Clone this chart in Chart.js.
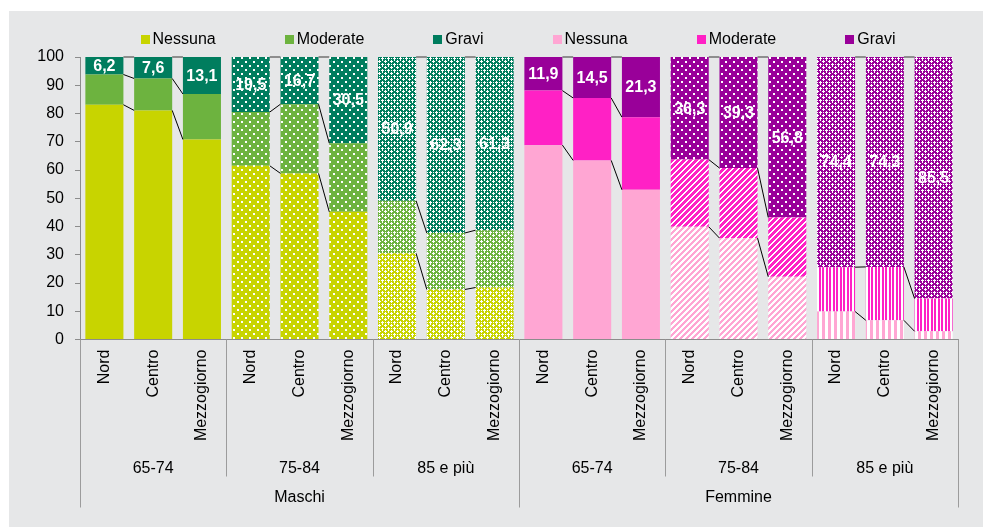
<!DOCTYPE html>
<html>
<head>
<meta charset="utf-8">
<script src="https://cdn.jsdelivr.net/npm/chart.js@4.4.1/dist/chart.umd.min.js"></script>
<style>
    html, body { margin: 0; padding: 0; background: #fff; }
    #myChart { display: block; }
</style>
</head>
<body>
<canvas id="myChart" width="983" height="527"></canvas>
<script>
// categories
const regions = ['Nord', 'Centro', 'Mezzogiorno', 'Nord', 'Centro', 'Mezzogiorno', 'Nord', 'Centro', 'Mezzogiorno',
    'Nord', 'Centro', 'Mezzogiorno', 'Nord', 'Centro', 'Mezzogiorno', 'Nord', 'Centro', 'Mezzogiorno'];
const ageGroups = ['65-74', '75-84', '85 e più', '65-74', '75-84', '85 e più'];
const sexes = ['Maschi', 'Femmine'];
const severity = ['Nessuna', 'Moderate', 'Gravi'];

// values (Nord, Centro, Mezzogiorno for 65-74, 75-84, 85 e più)
const maschiNessuna = [83.1, 81.1, 70.8, 61.5, 58.8, 45.2, 30.5, 17.7, 18.4];
const maschiModerate = [10.7, 11.3, 16.1, 19.0, 24.5, 24.3, 18.6, 20.0, 20.3];
const maschiGravi = [6.2, 7.6, 13.1, 19.5, 16.7, 30.5, 50.9, 62.3, 61.3];
const femmineNessuna = [68.8, 63.4, 53.0, 39.9, 35.9, 22.2, 9.9, 6.8, 2.9];
const femmineModerate = [19.3, 22.1, 25.7, 23.8, 24.8, 21.0, 15.7, 18.9, 11.6];
const femmineGravi = [11.9, 14.5, 21.3, 36.3, 39.3, 56.8, 74.4, 74.3, 85.5];

const yTicks = [0, 10, 20, 30, 40, 50, 60, 70, 80, 90, 100];

const maschiColors = ['#c8d400', '#6db33f', '#007d5e'];
const femmineColors = ['#ffa6d3', '#ff21c5', '#990099'];
// fill type per severity (rows) and age group (columns)
const maschiFill = [['solid', 'dots', 'check'], ['solid', 'dots', 'check'], ['solid', 'dots', 'check']];
const femmineFill = [['solid', 'diagLight', 'vertLight'], ['solid', 'diag', 'vert'], ['solid', 'dots', 'check']];

const FONT = "'Liberation Sans', Arial, sans-serif";
const GREY_BG = '#e6e7e8';
Chart.defaults.font.family = FONT;

var ctx = document.getElementById('myChart');
var ctx2d = ctx.getContext('2d');
var patternCache = {};

function makeFill(color, type) {
    if (type === 'solid') return color;
    let key = color + type;
    if (patternCache[key]) return patternCache[key];
    let t = document.createElement('canvas');
    let w = 6, h = 6;
    if (type === 'dots') { w = 8; h = 8; }
    if (type === 'vert') { w = 7; h = 1; }
    if (type === 'vertLight') { w = 6; h = 1; }
    t.width = w; t.height = h;
    let g = t.getContext('2d');
    g.fillStyle = color;
    g.fillRect(0, 0, w, h);
    g.fillStyle = '#fff';
    if (type === 'dots') {
        g.fillRect(1, 1, 2, 2);
        g.fillRect(5, 5, 2, 2);
    } else if (type === 'check') {
        // small white crosses plus single pixels
        [[1, 0], [0, 1], [1, 1], [2, 1], [1, 2], [4, 3], [3, 4], [4, 4], [5, 4], [4, 5], [4, 0], [1, 4]].forEach(p => g.fillRect(p[0], p[1], 1, 1));
    } else if (type === 'diag' || type === 'diagLight') {
        let n = type === 'diag' ? 2 : 3;
        for (let x = 0; x < w; x++) {
            for (let y = 0; y < h; y++) {
                if ((x + y) % 6 < n) g.fillRect(x, y, 1, 1);
            }
        }
    } else if (type === 'vert') {
        g.fillRect(2, 0, 1, 1);
        g.fillRect(5, 0, 2, 1);
    } else if (type === 'vertLight') {
        g.fillRect(3, 0, 3, 1);
    }
    patternCache[key] = ctx2d.createPattern(t, 'repeat');
    return patternCache[key];
}

function fmt(v) {
    return v.toFixed(1).replace('.', ',');
}

const empty = [null, null, null, null, null, null, null, null, null];

function makeDataset(label, values, isMale, k) {
    let colors = isMale ? maschiColors : femmineColors;
    let fills = isMale ? maschiFill : femmineFill;
    return {
        label: label,
        data: isMale ? values.concat(empty) : empty.concat(values),
        legendColor: colors[k],
        backgroundColor: function (c) {
            let grp = Math.floor(c.dataIndex / 3) % 3;
            return makeFill(colors[k], fills[k][grp]);
        },
        borderWidth: 0,
        barPercentage: 0.78,
        categoryPercentage: 1.0
    };
}

// panel background
const bgPlugin = {
    id: 'bgPlugin',
    beforeDraw(chart) {
        let c = chart.ctx;
        c.save();
        c.fillStyle = '#fff';
        c.fillRect(0, 0, chart.width, chart.height);
        c.fillStyle = GREY_BG;
        c.fillRect(9, 11, chart.width - 9, chart.height - 11);
        c.restore();
    }
};

// Excel-like series lines between bars of the same age group
const seriesLines = {
    id: 'seriesLines',
    afterDatasetsDraw(chart) {
        let c = chart.ctx;
        c.save();
        chart.data.datasets.forEach((ds, di) => {
            let meta = chart.getDatasetMeta(di);
            // top lines (at 100) look grey in the original
            let isTop = (di % 3 === 2);
            c.strokeStyle = isTop ? '#707070' : '#000';
            c.lineWidth = isTop ? 1.5 : 1;
            for (let i = 0; i < ds.data.length - 1; i++) {
                if (i % 3 === 2) continue;
                if (ds.data[i] == null || ds.data[i + 1] == null) continue;
                let a = meta.data[i], b = meta.data[i + 1];
                c.beginPath();
                c.moveTo(a.x + a.width / 2, a.y);
                c.lineTo(b.x - b.width / 2, b.y);
                c.stroke();
            }
        });
        c.restore();
    }
};

// white value labels inside the "Gravi" segments
const valueLabels = {
    id: 'valueLabels',
    afterDatasetsDraw(chart) {
        let c = chart.ctx;
        c.save();
        c.fillStyle = '#fff';
        c.font = 'bold 16px ' + FONT;
        c.textAlign = 'center';
        c.textBaseline = 'middle';
        [2, 5].forEach(di => {
            let ds = chart.data.datasets[di];
            let meta = chart.getDatasetMeta(di);
            ds.data.forEach((v, i) => {
                if (v == null) return;
                let el = meta.data[i];
                c.fillText(fmt(v), el.x, (el.y + el.base) / 2 + 1);
            });
        });
        c.restore();
    }
};

// group separators on the category axis
const separators = {
    id: 'separators',
    afterDraw(chart) {
        let xs = chart.scales.x, x2 = chart.scales.x2, x3 = chart.scales.x3;
        let half = (xs.getPixelForValue(1) - xs.getPixelForValue(0)) / 2;
        let c = chart.ctx;
        c.save();
        c.strokeStyle = '#9c9c9c';
        c.lineWidth = 1;
        for (let i = 0; i <= regions.length; i += 3) {
            let px = i < regions.length ? xs.getPixelForValue(i) - half : xs.getPixelForValue(i - 1) + half;
            px = Math.round(px) + 0.5;
            let bottom = (i % 9 === 0) ? x3.top + 26 : x2.bottom - 5;
            c.beginPath();
            c.moveTo(px, xs.top);
            c.lineTo(px, bottom);
            c.stroke();
        }
        c.restore();
    }
};

// legend row centred over the plot area
const legendRow = {
    id: 'legendRow',
    afterDraw(chart) {
        let c = chart.ctx;
        let area = chart.chartArea;
        c.save();
        c.font = '16px ' + FONT;
        c.textBaseline = 'middle';
        let box = 9, gapText = 3, gapItem = 69;
        let items = chart.data.datasets.map(d => ({ text: d.label, color: d.legendColor, w: c.measureText(d.label).width }));
        let total = 0;
        items.forEach((it, i) => { total += box + gapText + it.w + (i > 0 ? gapItem : 0); });
        let x = (area.left + area.right) / 2 - 1 - total / 2;
        let y = 39.5;
        items.forEach(it => {
            c.fillStyle = it.color;
            c.fillRect(Math.round(x), Math.round(y - box / 2), box, box);
            c.fillStyle = '#000';
            c.fillText(it.text, x + box + gapText, y);
            x += box + gapText + it.w + gapItem;
        });
        c.restore();
    }
};

var chart = new Chart(ctx, {
    type: 'bar',
    data: {
        labels: regions,
        datasets: [
            makeDataset(severity[0], maschiNessuna, true, 0),
            makeDataset(severity[1], maschiModerate, true, 1),
            makeDataset(severity[2], maschiGravi, true, 2),
            makeDataset(severity[0], femmineNessuna, false, 0),
            makeDataset(severity[1], femmineModerate, false, 1),
            makeDataset(severity[2], femmineGravi, false, 2)
        ]
    },
    options: {
        responsive: false,
        devicePixelRatio: 1,
        animation: false,
        events: [],
        layout: { padding: { top: 57, right: 25, left: 0, bottom: 0 } },
        plugins: {
            legend: { display: false },
            tooltip: { enabled: false },
            title: { display: false }
        },
        scales: {
            y: {
                stacked: true,
                min: 0,
                max: 100,
                afterBuildTicks: s => { s.ticks = yTicks.map(v => ({ value: v })); },
                ticks: { padding: 11, color: '#000', font: { size: 16 } },
                grid: { drawOnChartArea: false, drawTicks: true, tickLength: 5, color: '#8c8c8c' },
                border: { display: true, color: '#8c8c8c' },
                afterFit: s => { s.width = 80; }
            },
            x: {
                stacked: true,
                weight: 0,
                ticks: { autoSkip: false, minRotation: 90, maxRotation: 90, padding: 10, color: '#000', font: { size: 16 } },
                grid: { display: false, drawTicks: false },
                border: { display: true, color: '#8c8c8c' },
                afterFit: s => { s.height = 112; }
            },
            x2: {
                type: 'category',
                labels: ageGroups,
                position: 'bottom',
                weight: 1,
                offset: true,
                ticks: { autoSkip: false, maxRotation: 0, padding: 7, color: '#000', font: { size: 16 } },
                grid: { display: false, drawTicks: false },
                border: { display: false },
                afterFit: s => { s.height = 30; }
            },
            x3: {
                type: 'category',
                labels: sexes,
                position: 'bottom',
                weight: 2,
                offset: true,
                ticks: { autoSkip: false, maxRotation: 0, padding: 6, color: '#000', font: { size: 16 } },
                grid: { display: false, drawTicks: false },
                border: { display: false },
                afterFit: s => { s.height = 45.5; }
            }
        }
    },
    plugins: [bgPlugin, seriesLines, valueLabels, separators, legendRow]
});
</script>
</body>
</html>
